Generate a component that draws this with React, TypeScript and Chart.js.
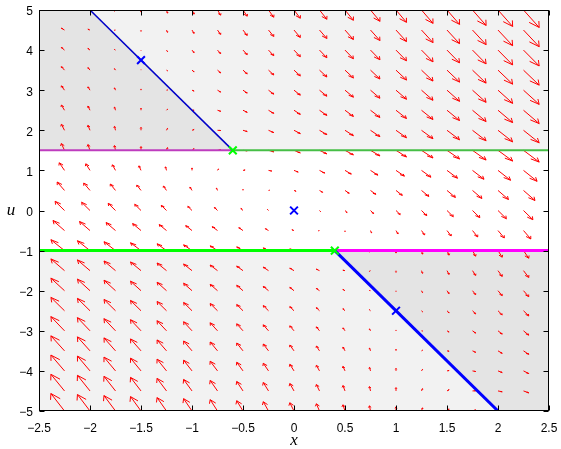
import React, { useEffect, useRef } from "react";
import { Chart, registerables } from "chart.js";
Chart.register(...registerables);

// ---------- data ----------
const xGrid = [-2.5, -2.25, -2, -1.75, -1.5, -1.25, -1, -0.75, -0.5, -0.25, 0, 0.25, 0.5, 0.75, 1, 1.25, 1.5, 1.75, 2, 2.25, 2.5];
const uGrid = [5, 4.5, 4, 3.5, 3, 2.5, 2, 1.5, 1, 0.5, 0, -0.5, -1, -1.5, -2, -2.5, -3, -3.5, -4, -4.5, -5];

// horizontal arrow components (x-rate) per row
const dxHigh = [-1, -0.75, -0.5, -0.25, 0, 0.25, 0.5, 0.75, 1, 1.25, 1.5, 1.75, 2, 2.25, 2.5, 2.75, 3, 3.25, 3.5, 3.75, 4];
const dxU1 = [-1.5, -1.25, -1, -0.75, -0.5, -0.25, 0, 0.25, 0.5, 0.75, 1, 1.25, 1.5, 1.75, 2, 2.25, 2.5, 2.75, 3, 3.25, 3.5];
const dxU05 = [-2, -1.75, -1.5, -1.25, -1, -0.75, -0.5, -0.25, 0, 0.25, 0.5, 0.75, 1, 1.25, 1.5, 1.75, 2, 2.25, 2.5, 2.75, 3];
const dxU0 = [-2.5, -2.25, -2, -1.75, -1.5, -1.25, -1, -0.75, -0.5, -0.25, 0, 0.25, 0.5, 0.75, 1, 1.25, 1.5, 1.75, 2, 2.25, 2.5];
const dxUm05 = [-3, -2.75, -2.5, -2.25, -2, -1.75, -1.5, -1.25, -1, -0.75, -0.5, -0.25, 0, 0.25, 0.5, 0.75, 1, 1.25, 1.5, 1.75, 2];
const dxLow = [-3.5, -3.25, -3, -2.75, -2.5, -2.25, -2, -1.75, -1.5, -1.25, -1, -0.75, -0.5, -0.25, 0, 0.25, 0.5, 0.75, 1, 1.25, 1.5];
const dxRows = [dxHigh, dxHigh, dxHigh, dxHigh, dxHigh, dxHigh, dxHigh, dxHigh, dxU1, dxU05, dxU0, dxUm05,
  dxLow, dxLow, dxLow, dxLow, dxLow, dxLow, dxLow, dxLow, dxLow];

// vertical arrow components (u-rate) per row
const duRows = [
  [1.25, 0.625, 0, -0.625, -1.25, -1.875, -2.5, -3.125, -3.75, -4.375, -5, -5.625, -6.25, -6.875, -7.5, -8.125, -8.75, -9.375, -10, -10.625, -11.25],
  [1.75, 1.125, 0.5, -0.125, -0.75, -1.375, -2, -2.625, -3.25, -3.875, -4.5, -5.125, -5.75, -6.375, -7, -7.625, -8.25, -8.875, -9.5, -10.125, -10.75],
  [2.25, 1.625, 1, 0.375, -0.25, -0.875, -1.5, -2.125, -2.75, -3.375, -4, -4.625, -5.25, -5.875, -6.5, -7.125, -7.75, -8.375, -9, -9.625, -10.25],
  [2.75, 2.125, 1.5, 0.875, 0.25, -0.375, -1, -1.625, -2.25, -2.875, -3.5, -4.125, -4.75, -5.375, -6, -6.625, -7.25, -7.875, -8.5, -9.125, -9.75],
  [3.25, 2.625, 2, 1.375, 0.75, 0.125, -0.5, -1.125, -1.75, -2.375, -3, -3.625, -4.25, -4.875, -5.5, -6.125, -6.75, -7.375, -8, -8.625, -9.25],
  [3.75, 3.125, 2.5, 1.875, 1.25, 0.625, 0, -0.625, -1.25, -1.875, -2.5, -3.125, -3.75, -4.375, -5, -5.625, -6.25, -6.875, -7.5, -8.125, -8.75],
  [4.25, 3.625, 3, 2.375, 1.75, 1.125, 0.5, -0.125, -0.75, -1.375, -2, -2.625, -3.25, -3.875, -4.5, -5.125, -5.75, -6.375, -7, -7.625, -8.25],
  [4.75, 4.125, 3.5, 2.875, 2.25, 1.625, 1, 0.375, -0.25, -0.875, -1.5, -2.125, -2.75, -3.375, -4, -4.625, -5.25, -5.875, -6.5, -7.125, -7.75],
  [5.25, 4.625, 4, 3.375, 2.75, 2.125, 1.5, 0.875, 0.25, -0.375, -1, -1.625, -2.25, -2.875, -3.5, -4.125, -4.75, -5.375, -6, -6.625, -7.25],
  [5.75, 5.125, 4.5, 3.875, 3.25, 2.625, 2, 1.375, 0.75, 0.125, -0.5, -1.125, -1.75, -2.375, -3, -3.625, -4.25, -4.875, -5.5, -6.125, -6.75],
  [6.25, 5.625, 5, 4.375, 3.75, 3.125, 2.5, 1.875, 1.25, 0.625, 0, -0.625, -1.25, -1.875, -2.5, -3.125, -3.75, -4.375, -5, -5.625, -6.25],
  [6.75, 6.125, 5.5, 4.875, 4.25, 3.625, 3, 2.375, 1.75, 1.125, 0.5, -0.125, -0.75, -1.375, -2, -2.625, -3.25, -3.875, -4.5, -5.125, -5.75],
  [7.25, 6.625, 6, 5.375, 4.75, 4.125, 3.5, 2.875, 2.25, 1.625, 1, 0.375, -0.25, -0.875, -1.5, -2.125, -2.75, -3.375, -4, -4.625, -5.25],
  [7.75, 7.125, 6.5, 5.875, 5.25, 4.625, 4, 3.375, 2.75, 2.125, 1.5, 0.875, 0.25, -0.375, -1, -1.625, -2.25, -2.875, -3.5, -4.125, -4.75],
  [8.25, 7.625, 7, 6.375, 5.75, 5.125, 4.5, 3.875, 3.25, 2.625, 2, 1.375, 0.75, 0.125, -0.5, -1.125, -1.75, -2.375, -3, -3.625, -4.25],
  [8.75, 8.125, 7.5, 6.875, 6.25, 5.625, 5, 4.375, 3.75, 3.125, 2.5, 1.875, 1.25, 0.625, 0, -0.625, -1.25, -1.875, -2.5, -3.125, -3.75],
  [9.25, 8.625, 8, 7.375, 6.75, 6.125, 5.5, 4.875, 4.25, 3.625, 3, 2.375, 1.75, 1.125, 0.5, -0.125, -0.75, -1.375, -2, -2.625, -3.25],
  [9.75, 9.125, 8.5, 7.875, 7.25, 6.625, 6, 5.375, 4.75, 4.125, 3.5, 2.875, 2.25, 1.625, 1, 0.375, -0.25, -0.875, -1.5, -2.125, -2.75],
  [10.25, 9.625, 9, 8.375, 7.75, 7.125, 6.5, 5.875, 5.25, 4.625, 4, 3.375, 2.75, 2.125, 1.5, 0.875, 0.25, -0.375, -1, -1.625, -2.25],
  [10.75, 10.125, 9.5, 8.875, 8.25, 7.625, 7, 6.375, 5.75, 5.125, 4.5, 3.875, 3.25, 2.625, 2, 1.375, 0.75, 0.125, -0.5, -1.125, -1.75],
  [11.25, 10.625, 10, 9.375, 8.75, 8.125, 7.5, 6.875, 6.25, 5.625, 5, 4.375, 3.75, 3.125, 2.5, 1.875, 1.25, 0.625, 0, -0.625, -1.25],
];

// shaded regions (polygons in data units)
const lightUpperX = [-2.5, 2.5, 2.5, -2.5];
const lightUpperU = [1.5, 1.5, 5, 5];
const lightLowerX = [-2.5, 2.5, 2.5, -2.5];
const lightLowerU = [-5, -5, -1, -1];
const darkUpperX = [-2.5, -0.6, -2, -2.5];
const darkUpperU = [1.5, 1.5, 5, 5];
const darkLowerX = [0.4, 2.5, 2.5, 2];
const darkLowerU = [-1, -1, -5, -5];

// lines
const upperMagentaX = [-2.5, -0.6];
const upperMagentaU = [1.5, 1.5];
const upperGreenX = [-0.6, 2.5];
const upperGreenU = [1.5, 1.5];
const lowerGreenX = [-2.5, 0.4];
const lowerGreenU = [-1, -1];
const lowerMagentaX = [0.4, 2.5];
const lowerMagentaU = [-1, -1];
const upperBlueX = [-2, -0.6];
const upperBlueU = [5, 1.5];
const lowerBlueX = [0.4, 2];
const lowerBlueU = [-1, -5];

// markers
const equilibriaX = [-1.5, 0, 1];
const equilibriaU = [3.75, 0, -2.5];
const cornerX = [-0.6, 0.4];
const cornerU = [1.5, -1];

// ticks
const xTickLabels = ["\u22122.5", "\u22122", "\u22121.5", "\u22121", "\u22120.5", "0", "0.5", "1", "1.5", "2", "2.5"];
const yTickLabels = ["\u22125", "\u22124", "\u22123", "\u22122", "\u22121", "0", "1", "2", "3", "4", "5"];

const pts = (xs: number[], us: number[]) => xs.map((x, i) => ({ x, y: us[i] }));

const quiverPlugin = {
  id: "quiver",
  beforeDatasetsDraw(chart: any) {
    const { ctx, chartArea } = chart;
    const sx = chart.scales.x;
    const sy = chart.scales.y;
    const poly = (xs: number[], us: number[], color: string) => {
      ctx.beginPath();
      xs.forEach((x, i) => {
        const px = sx.getPixelForValue(x);
        const py = sy.getPixelForValue(us[i]);
        if (i === 0) ctx.moveTo(px, py);
        else ctx.lineTo(px, py);
      });
      ctx.closePath();
      ctx.fillStyle = color;
      ctx.fill();
    };
    ctx.save();
    ctx.beginPath();
    ctx.rect(chartArea.left, chartArea.top, chartArea.right - chartArea.left, chartArea.bottom - chartArea.top);
    ctx.clip();
    poly(lightUpperX, lightUpperU, "rgb(242,242,242)");
    poly(lightLowerX, lightLowerU, "rgb(242,242,242)");
    poly(darkUpperX, darkUpperU, "rgb(228,228,228)");
    poly(darkLowerX, darkLowerU, "rgb(228,228,228)");

    const scale = 0.041;
    const alpha = 0.33;
    const beta = 0.33;
    ctx.strokeStyle = "rgb(255,0,0)";
    ctx.lineWidth = 1;
    uGrid.forEach((u0, r) => {
      xGrid.forEach((x0, c) => {
        const vx = dxRows[r][c] * scale;
        const vu = duRows[r][c] * scale;
        const hx = x0 + vx;
        const hu = u0 + vu;
        const b1x = hx - alpha * (vx + beta * vu);
        const b1u = hu - alpha * (vu - beta * vx);
        const b2x = hx - alpha * (vx - beta * vu);
        const b2u = hu - alpha * (vu + beta * vx);
        ctx.beginPath();
        ctx.moveTo(sx.getPixelForValue(x0), sy.getPixelForValue(u0));
        ctx.lineTo(sx.getPixelForValue(hx), sy.getPixelForValue(hu));
        ctx.moveTo(sx.getPixelForValue(b1x), sy.getPixelForValue(b1u));
        ctx.lineTo(sx.getPixelForValue(hx), sy.getPixelForValue(hu));
        ctx.lineTo(sx.getPixelForValue(b2x), sy.getPixelForValue(b2u));
        ctx.stroke();
      });
    });
    ctx.restore();
  },
  afterDraw(chart: any) {
    const { ctx, chartArea } = chart;
    const sx = chart.scales.x;
    const sy = chart.scales.y;
    const L = Math.round(chartArea.left) + 0.5;
    const R = Math.round(chartArea.right) - 0.5;
    const T = Math.round(chartArea.top) + 0.5;
    const B = Math.round(chartArea.bottom) - 0.5;
    ctx.save();
    ctx.strokeStyle = "#000";
    ctx.lineWidth = 1;
    ctx.strokeRect(L, T, R - L, B - T);
    ctx.beginPath();
    sx.ticks.forEach((t: any) => {
      const p = Math.round(sx.getPixelForValue(t.value)) + 0.5;
      ctx.moveTo(p, B);
      ctx.lineTo(p, B - 5);
      ctx.moveTo(p, T);
      ctx.lineTo(p, T + 5);
    });
    sy.ticks.forEach((t: any) => {
      const p = Math.round(sy.getPixelForValue(t.value)) + 0.5;
      ctx.moveTo(L, p);
      ctx.lineTo(L + 5, p);
      ctx.moveTo(R, p);
      ctx.lineTo(R - 5, p);
    });
    ctx.stroke();
    ctx.fillStyle = "#000";
    ctx.font = "italic 17px 'Liberation Serif'";
    ctx.textAlign = "center";
    ctx.textBaseline = "middle";
    ctx.fillText("x", (chartArea.left + chartArea.right) / 2, 441);
    ctx.fillText("u", 11, (chartArea.top + chartArea.bottom) / 2);
    ctx.restore();
  },
};

export default function App() {
  const ref = useRef<HTMLCanvasElement | null>(null);
  useEffect(() => {
    if (!ref.current) return;
    const tickFont = { family: "'Liberation Sans', Arial, sans-serif", size: 12 };
    const chart = new Chart(ref.current, {
      type: "scatter",
      data: {
        datasets: [
          { data: pts(cornerX, cornerU), showLine: false, pointStyle: "crossRot", pointRadius: 5.5, borderColor: "rgb(0,255,0)", backgroundColor: "rgb(0,255,0)", pointBorderWidth: 2 } as any,
          { data: pts(equilibriaX, equilibriaU), showLine: false, pointStyle: "crossRot", pointRadius: 5.5, borderColor: "rgb(0,0,255)", backgroundColor: "rgb(0,0,255)", pointBorderWidth: 2 } as any,
          { data: pts(lowerBlueX, lowerBlueU), showLine: true, borderColor: "rgb(0,0,255)", borderWidth: 3, pointRadius: 0 },
          { data: pts(upperBlueX, upperBlueU), showLine: true, borderColor: "rgb(0,0,200)", borderWidth: 1.5, pointRadius: 0 },
          { data: pts(lowerMagentaX, lowerMagentaU), showLine: true, borderColor: "rgb(255,0,255)", borderWidth: 3, pointRadius: 0 },
          { data: pts(lowerGreenX, lowerGreenU), showLine: true, borderColor: "rgb(0,255,0)", borderWidth: 3, pointRadius: 0 },
          { data: pts(upperGreenX, upperGreenU), showLine: true, borderColor: "rgb(70,190,70)", borderWidth: 2, pointRadius: 0 },
          { data: pts(upperMagentaX, upperMagentaU), showLine: true, borderColor: "rgb(190,60,190)", borderWidth: 2, pointRadius: 0 },
        ],
      },
      options: {
        animation: false,
        responsive: false,
        maintainAspectRatio: false,
        layout: { padding: { left: 0, right: 12, top: 10, bottom: 0 } },
        plugins: { legend: { display: false }, tooltip: { enabled: false } },
        scales: {
          x: {
            type: "linear",
            min: -2.5,
            max: 2.5,
            ticks: {
              stepSize: 0.5,
              autoSkip: false,
              maxRotation: 0,
              color: "#000",
              font: tickFont,
              padding: 10,
              callback: (_v: any, i: number) => xTickLabels[i],
            },
            grid: { display: false, drawTicks: false },
            border: { display: false },
            afterFit: (s: any) => { s.height = 38; s.paddingLeft = 0; s.paddingRight = 0; },
          },
          y: {
            type: "linear",
            min: -5,
            max: 5,
            ticks: {
              stepSize: 1,
              autoSkip: false,
              color: "#000",
              font: tickFont,
              padding: 6,
              labelOffset: 2,
              callback: (_v: any, i: number) => yTickLabels[i],
            },
            grid: { display: false, drawTicks: false },
            border: { display: false },
            afterFit: (s: any) => { s.width = 39; s.paddingTop = 0; s.paddingBottom = 0; },
          },
        },
      },
      plugins: [quiverPlugin],
    });
    return () => chart.destroy();
  }, []);
  return (
    <div style={{ position: "absolute", left: 0, top: 0, width: 561, height: 449, background: "#fff" }}>
      <canvas ref={ref} width={561} height={449} style={{ width: 561, height: 449, display: "block" }} />
    </div>
  );
}
